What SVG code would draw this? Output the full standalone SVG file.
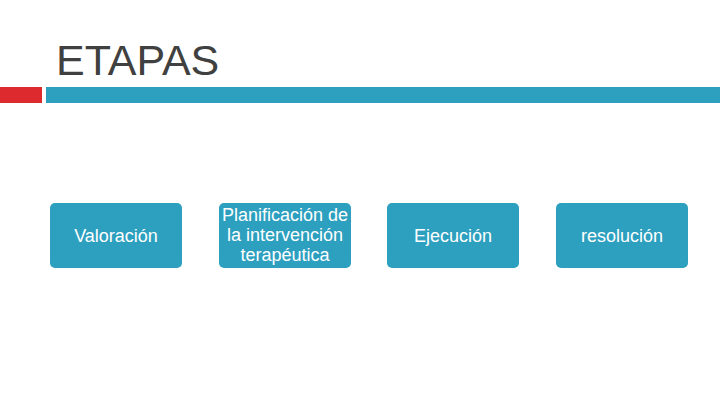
<svg xmlns="http://www.w3.org/2000/svg" width="720" height="405" viewBox="0 0 720 405">
<style>
.box{fill:#2DA0BF;}
.lbl{font-family:"Liberation Sans",Arial,sans-serif;font-size:18px;fill:#ffffff;text-anchor:middle;}
</style>
<rect width="720" height="405" fill="#ffffff"/>
<text x="56" y="75" font-family="Liberation Sans, Arial, sans-serif" font-size="43" fill="#404040">ETAPAS</text>
<rect x="0" y="87" width="42" height="16" fill="#DC2A2F"/>
<rect x="46" y="87" width="674" height="16" fill="#2DA0BF"/>
<g id="n1"><rect class="box" x="50" y="203" width="132" height="65" rx="5"/><text class="lbl" x="116" y="242">Valoración</text></g>
<g id="n2"><rect class="box" x="219" y="203" width="132" height="65" rx="5"/><text class="lbl" x="285" y="221">Planificación de</text><text class="lbl" x="285" y="241">la intervención</text><text class="lbl" x="285" y="261">terapéutica</text></g>
<g id="n3"><rect class="box" x="387" y="203" width="132" height="65" rx="5"/><text class="lbl" x="453" y="242">Ejecución</text></g>
<g id="n4"><rect class="box" x="556" y="203" width="132" height="65" rx="5"/><text class="lbl" x="622" y="242">resolución</text></g>
<g id="connectors"/>
</svg>
